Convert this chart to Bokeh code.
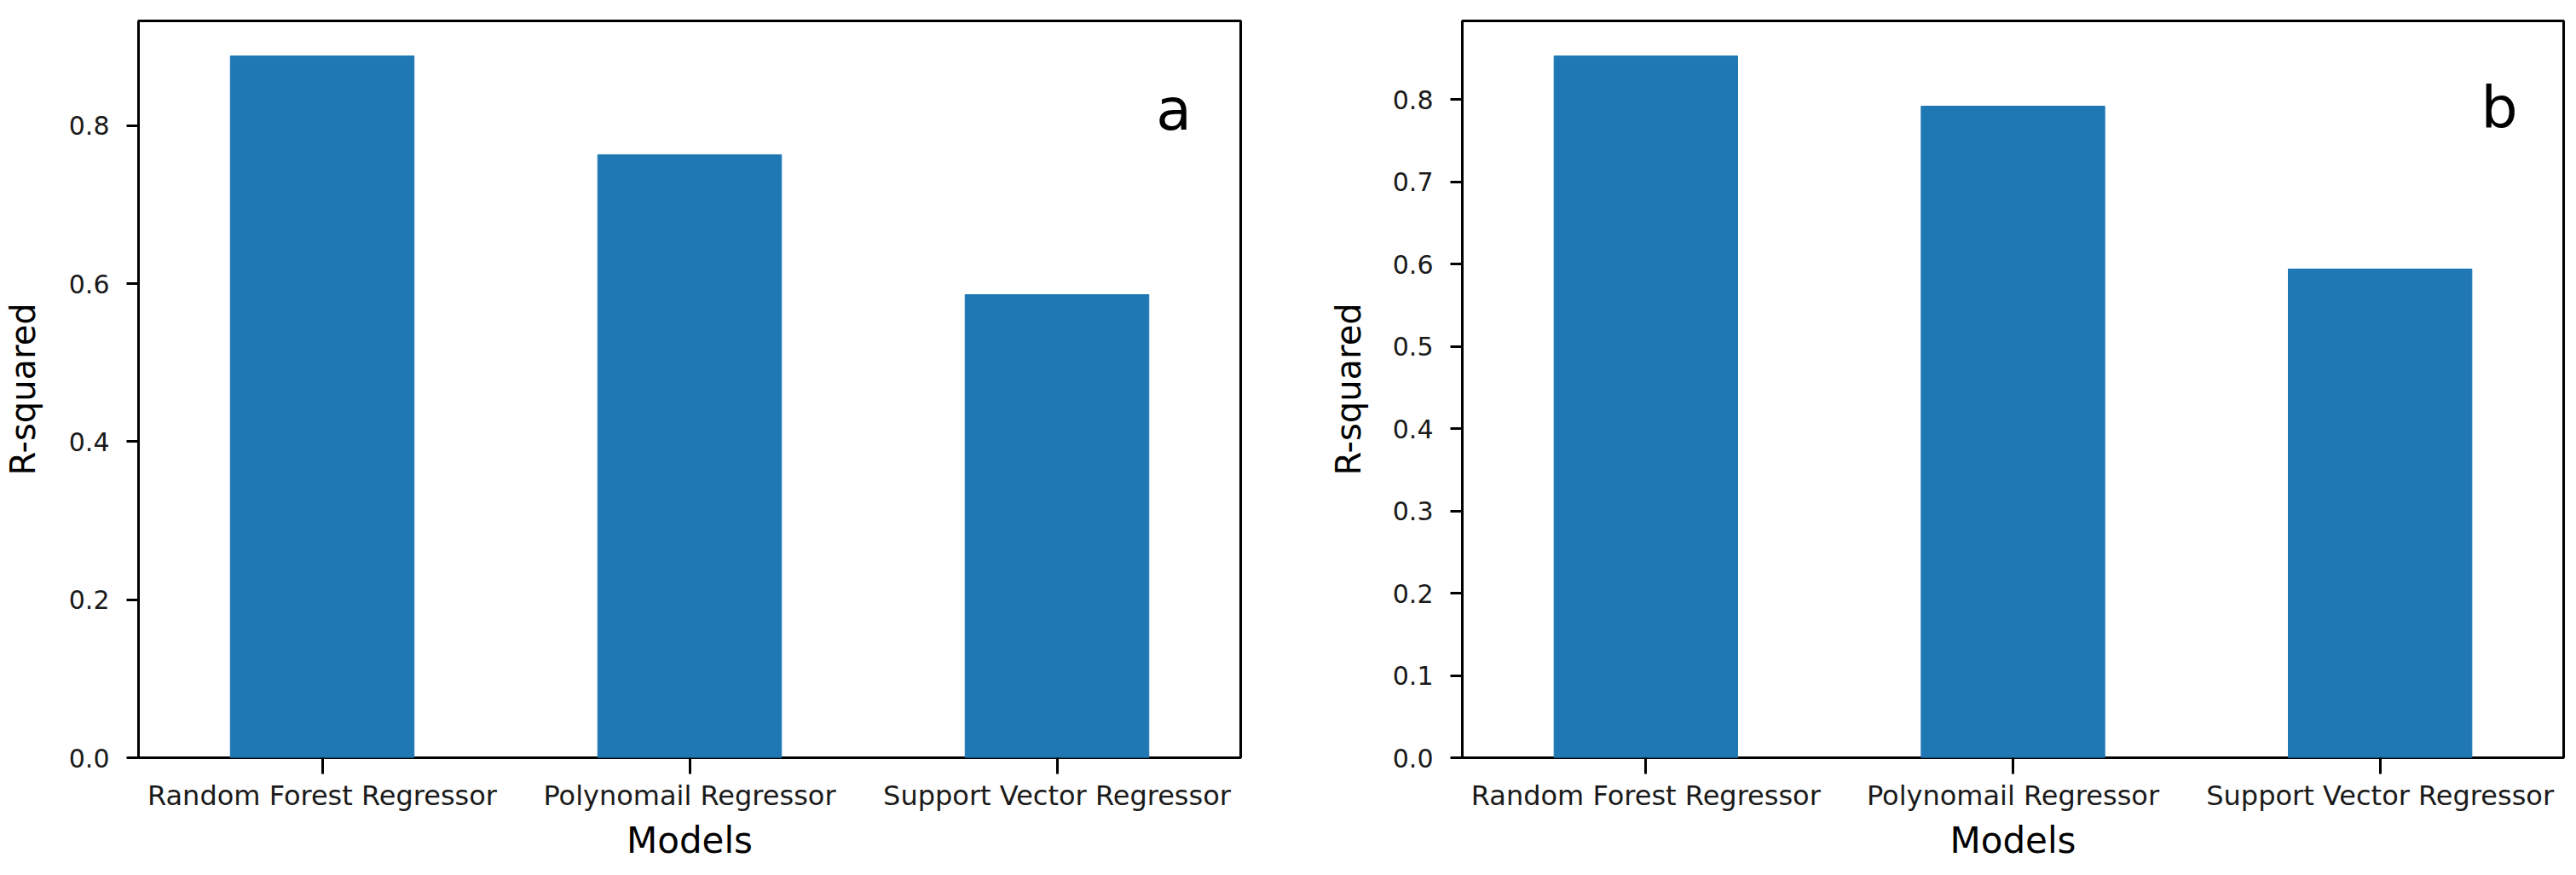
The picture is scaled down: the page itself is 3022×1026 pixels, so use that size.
from bokeh.plotting import figure
from bokeh.models import ColumnDataSource, Range1d, FactorRange, FixedTicker, PrintfTickFormatter, Label
from bokeh.layouts import row
from bokeh.embed import file_html
from bokeh.resources import INLINE

# ---- data ----
models = ["Random Forest Regressor", "Polynomail Regressor", "Support Vector Regressor"]
r2_a = [0.888, 0.763, 0.586]
r2_b = [0.853, 0.792, 0.594]
yticks_a = [0.0, 0.2, 0.4, 0.6, 0.8]
yticks_b = [0.0, 0.1, 0.2, 0.3, 0.4, 0.5, 0.6, 0.7, 0.8]
panel_labels = ["a", "b"]
x_label = "Models"
y_label = "R-squared"

BAR = "#1f77b4"
FONT = "DejaVu Sans"


def make_panel(values, yticks, tag, border_left, border_right, frame_w, ylab_standoff, tag_x, tag_y):
    p = figure(
        x_range=FactorRange(factors=models),
        y_range=Range1d(0, max(values) * 1.05),
        frame_width=frame_w, frame_height=864,
        min_border_left=border_left, min_border_right=border_right,
        min_border_top=24, min_border_bottom=4,
        output_backend="svg", toolbar_location=None,
        background_fill_color="white", border_fill_color="white",
    )
    src = ColumnDataSource(dict(model=models, r2=values))
    p.vbar(x="model", top="r2", width=0.5, source=src, fill_color=BAR, line_color=BAR, line_width=1)

    p.xgrid.grid_line_color = None
    p.ygrid.grid_line_color = None
    p.outline_line_color = "black"
    p.outline_line_width = 3
    p.outline_line_alpha = 1.0

    # y axis
    ya = p.yaxis[0]
    ya.ticker = FixedTicker(ticks=yticks)
    ya.formatter = PrintfTickFormatter(format="%.1f")
    ya.minor_tick_line_color = None
    ya.major_tick_in = 0
    ya.major_tick_out = 14
    ya.major_tick_line_width = 3
    ya.major_tick_line_color = "black"
    ya.axis_line_color = None
    ya.major_label_text_font = FONT
    ya.major_label_text_font_size = "30px"
    ya.major_label_text_color = "#1a1a1a"
    ya.major_label_standoff = 20
    ya.axis_label = y_label
    ya.axis_label_text_font = FONT
    ya.axis_label_text_font_size = "40px"
    ya.axis_label_text_font_style = "normal"
    ya.axis_label_text_color = "black"
    ya.axis_label_standoff = ylab_standoff

    # x axis
    xa = p.xaxis[0]
    xa.major_tick_in = 0
    xa.major_tick_out = 19
    xa.major_tick_line_width = 3
    xa.major_tick_line_color = "black"
    xa.minor_tick_line_color = None
    xa.axis_line_color = None
    xa.major_label_text_font = FONT
    xa.major_label_text_font_size = "32px"
    xa.major_label_text_color = "#1a1a1a"
    xa.major_label_standoff = 6
    xa.major_label_orientation = "horizontal"
    xa.axis_label = x_label
    xa.axis_label_text_font = FONT
    xa.axis_label_text_font_size = "42px"
    xa.axis_label_text_font_style = "normal"
    xa.axis_label_text_color = "black"
    xa.axis_label_standoff = 6

    p.add_layout(Label(x=tag_x, y=tag_y, text=tag, text_font=FONT, text_font_size="68px",
                       text_color="black", text_align="left", text_baseline="alphabetic"))
    return p


pa = make_panel(r2_a, yticks_a, panel_labels[0], 153, 100, 1293, 28, 2.77, 0.82)
pb = make_panel(r2_b, yticks_b, panel_labels[1], 160, 4, 1292, 26, 2.775, 0.79)

layout = row(pa, pb)
open("out.html", "w").write(file_html(layout, INLINE))
